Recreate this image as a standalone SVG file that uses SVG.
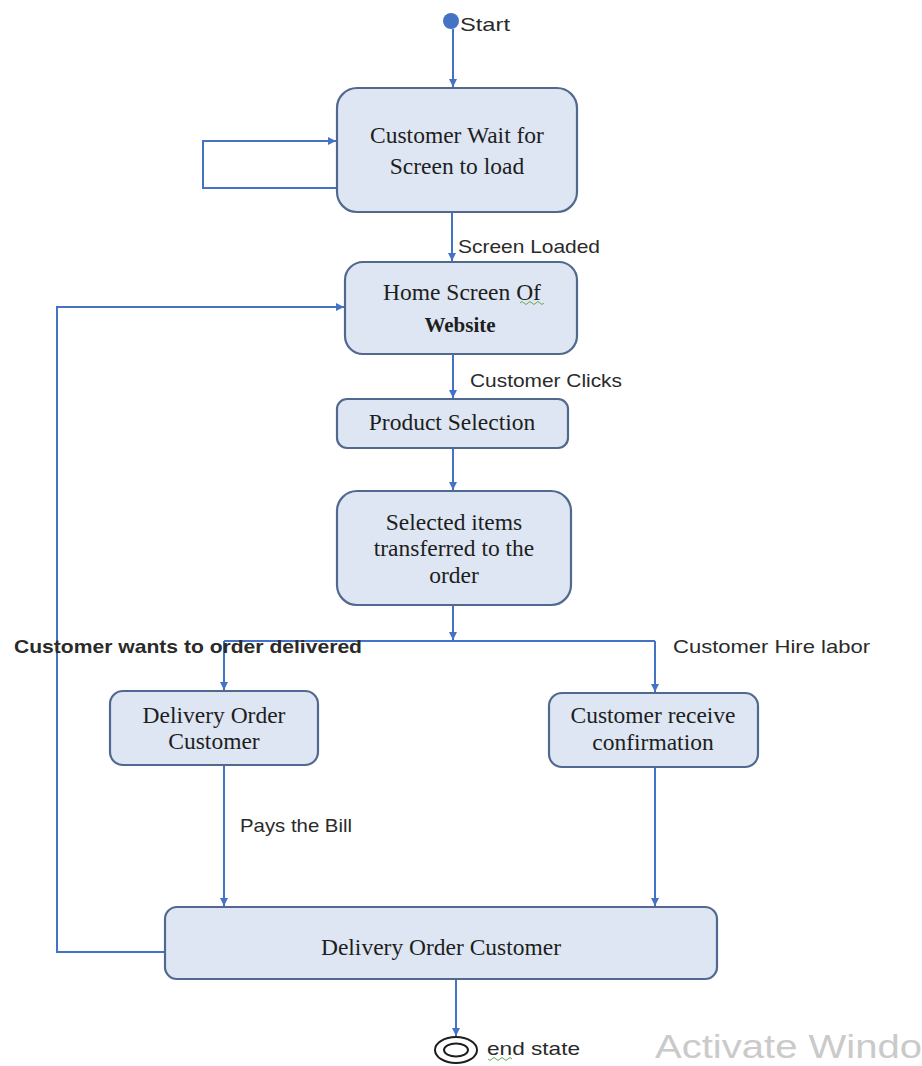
<svg xmlns="http://www.w3.org/2000/svg" width="922" height="1066" viewBox="0 0 922 1066">
  <defs>
    <marker id="arrow" markerUnits="userSpaceOnUse" markerWidth="10" markerHeight="10" refX="8" refY="4" orient="auto">
      <path d="M0,0 L8,4 L0,8 Z" fill="#4472c4"/>
    </marker>
    <style>
      .state { fill: #dde6f2; stroke: #52698f; stroke-width: 2.2; }
      .name { font-family: "Liberation Serif", "Times New Roman", serif; font-size: 23.5px; fill: #1e1e1e; text-anchor: middle; }
      .bold { font-weight: bold; font-size: 21px; }
      .label { font-family: "Liberation Sans", Arial, sans-serif; font-size: 18.5px; fill: #2a2a2a; }
      .strong { font-weight: bold; }
      .edge { fill: none; stroke: #4472c4; stroke-width: 2; }
      .squiggle { fill: none; stroke: #6aa84f; stroke-width: 1; }
    </style>
  </defs>

  <rect width="922" height="1066" fill="#ffffff"/>

  <!-- connectors -->
  <g id="connectors">
    <path class="edge" d="M453,29 L453,87" marker-end="url(#arrow)"/>
    <path class="edge" d="M337,188 L203,188 L203,141 L336,141" marker-end="url(#arrow)"/>
    <path class="edge" d="M452,212 L452,261" marker-end="url(#arrow)"/>
    <path class="edge" d="M453,354 L453,398" marker-end="url(#arrow)"/>
    <path class="edge" d="M453,448 L453,490" marker-end="url(#arrow)"/>
    <path class="edge" d="M453,605 L453,640" marker-end="url(#arrow)"/>
    <path class="edge" d="M224,641 L655,641"/>
    <path class="edge" d="M224,641 L224,690" marker-end="url(#arrow)"/>
    <path class="edge" d="M655,641 L655,692" marker-end="url(#arrow)"/>
    <path class="edge" d="M224,765 L224,906" marker-end="url(#arrow)"/>
    <path class="edge" d="M655,767 L655,906" marker-end="url(#arrow)"/>
    <path class="edge" d="M165,952 L57,952 L57,307 L344,307" marker-end="url(#arrow)"/>
    <path class="edge" d="M456,979 L456,1036" marker-end="url(#arrow)"/>

    <text class="label" x="458" y="253" textLength="142" lengthAdjust="spacingAndGlyphs">Screen Loaded</text>
    <text class="label" x="470" y="387" textLength="152" lengthAdjust="spacingAndGlyphs">Customer Clicks</text>
    <text class="label strong" x="14" y="653" textLength="348" lengthAdjust="spacingAndGlyphs">Customer wants to order delivered</text>
    <text class="label" x="673" y="653" textLength="197" lengthAdjust="spacingAndGlyphs">Customer Hire labor</text>
    <text class="label" x="240" y="832" textLength="112" lengthAdjust="spacingAndGlyphs">Pays the Bill</text>
  </g>

  <!-- initial state -->
  <g id="start">
    <circle cx="451" cy="21" r="8" fill="#4472c4"/>
    <text class="label" x="460" y="31" textLength="50" lengthAdjust="spacingAndGlyphs">Start</text>
  </g>

  <g id="wait-screen">
    <rect class="state" x="337" y="88" width="240" height="124" rx="20"/>
    <text class="name" x="457" y="143">Customer Wait for</text>
    <text class="name" x="457" y="174">Screen to load</text>
  </g>

  <g id="home-screen">
    <rect class="state" x="345" y="262" width="232" height="92" rx="18"/>
    <text class="name" x="462" y="300">Home Screen Of</text>
    <path class="squiggle" d="M520,303 q2,-3 4,0 t4,0 t4,0 t4,0 t4,0 t4,0"/>
    <text class="name bold" x="460" y="332">Website</text>
  </g>

  <g id="product-selection">
    <rect class="state" x="337" y="399" width="231" height="49" rx="10"/>
    <text class="name" x="452" y="430">Product Selection</text>
  </g>

  <g id="items-transferred">
    <rect class="state" x="337" y="491" width="234" height="114" rx="20"/>
    <text class="name" x="454" y="530">Selected  items</text>
    <text class="name" x="454" y="556">transferred to the</text>
    <text class="name" x="454" y="583">order</text>
  </g>

  <g id="delivery-order">
    <rect class="state" x="110" y="691" width="208" height="74" rx="13"/>
    <text class="name" x="214" y="723">Delivery Order</text>
    <text class="name" x="214" y="749">Customer</text>
  </g>

  <g id="receive-confirmation">
    <rect class="state" x="549" y="693" width="209" height="74" rx="13"/>
    <text class="name" x="653" y="723">Customer receive</text>
    <text class="name" x="653" y="750">confirmation</text>
  </g>

  <g id="delivery-order-final">
    <rect class="state" x="165" y="907" width="552" height="72" rx="12"/>
    <text class="name" x="441" y="955">Delivery Order Customer</text>
  </g>

  <!-- final state -->
  <g id="end">
    <ellipse cx="456" cy="1050" rx="21" ry="13" fill="#ffffff" stroke="#1e1e1e" stroke-width="2"/>
    <ellipse cx="456" cy="1050" rx="12" ry="6.5" fill="none" stroke="#1e1e1e" stroke-width="2"/>
    <text class="label" x="487" y="1055" textLength="93" lengthAdjust="spacingAndGlyphs">end state</text>
    <path class="squiggle" d="M488,1059 q2,3 4,0 t4,0 t4,0 t4,0 t4,0 t4,0"/>
  </g>

  <text x="655" y="1058" font-family="Liberation Sans, Arial, sans-serif" font-size="34" fill="#cacaca" textLength="267" lengthAdjust="spacingAndGlyphs">Activate Windo</text>
</svg>
